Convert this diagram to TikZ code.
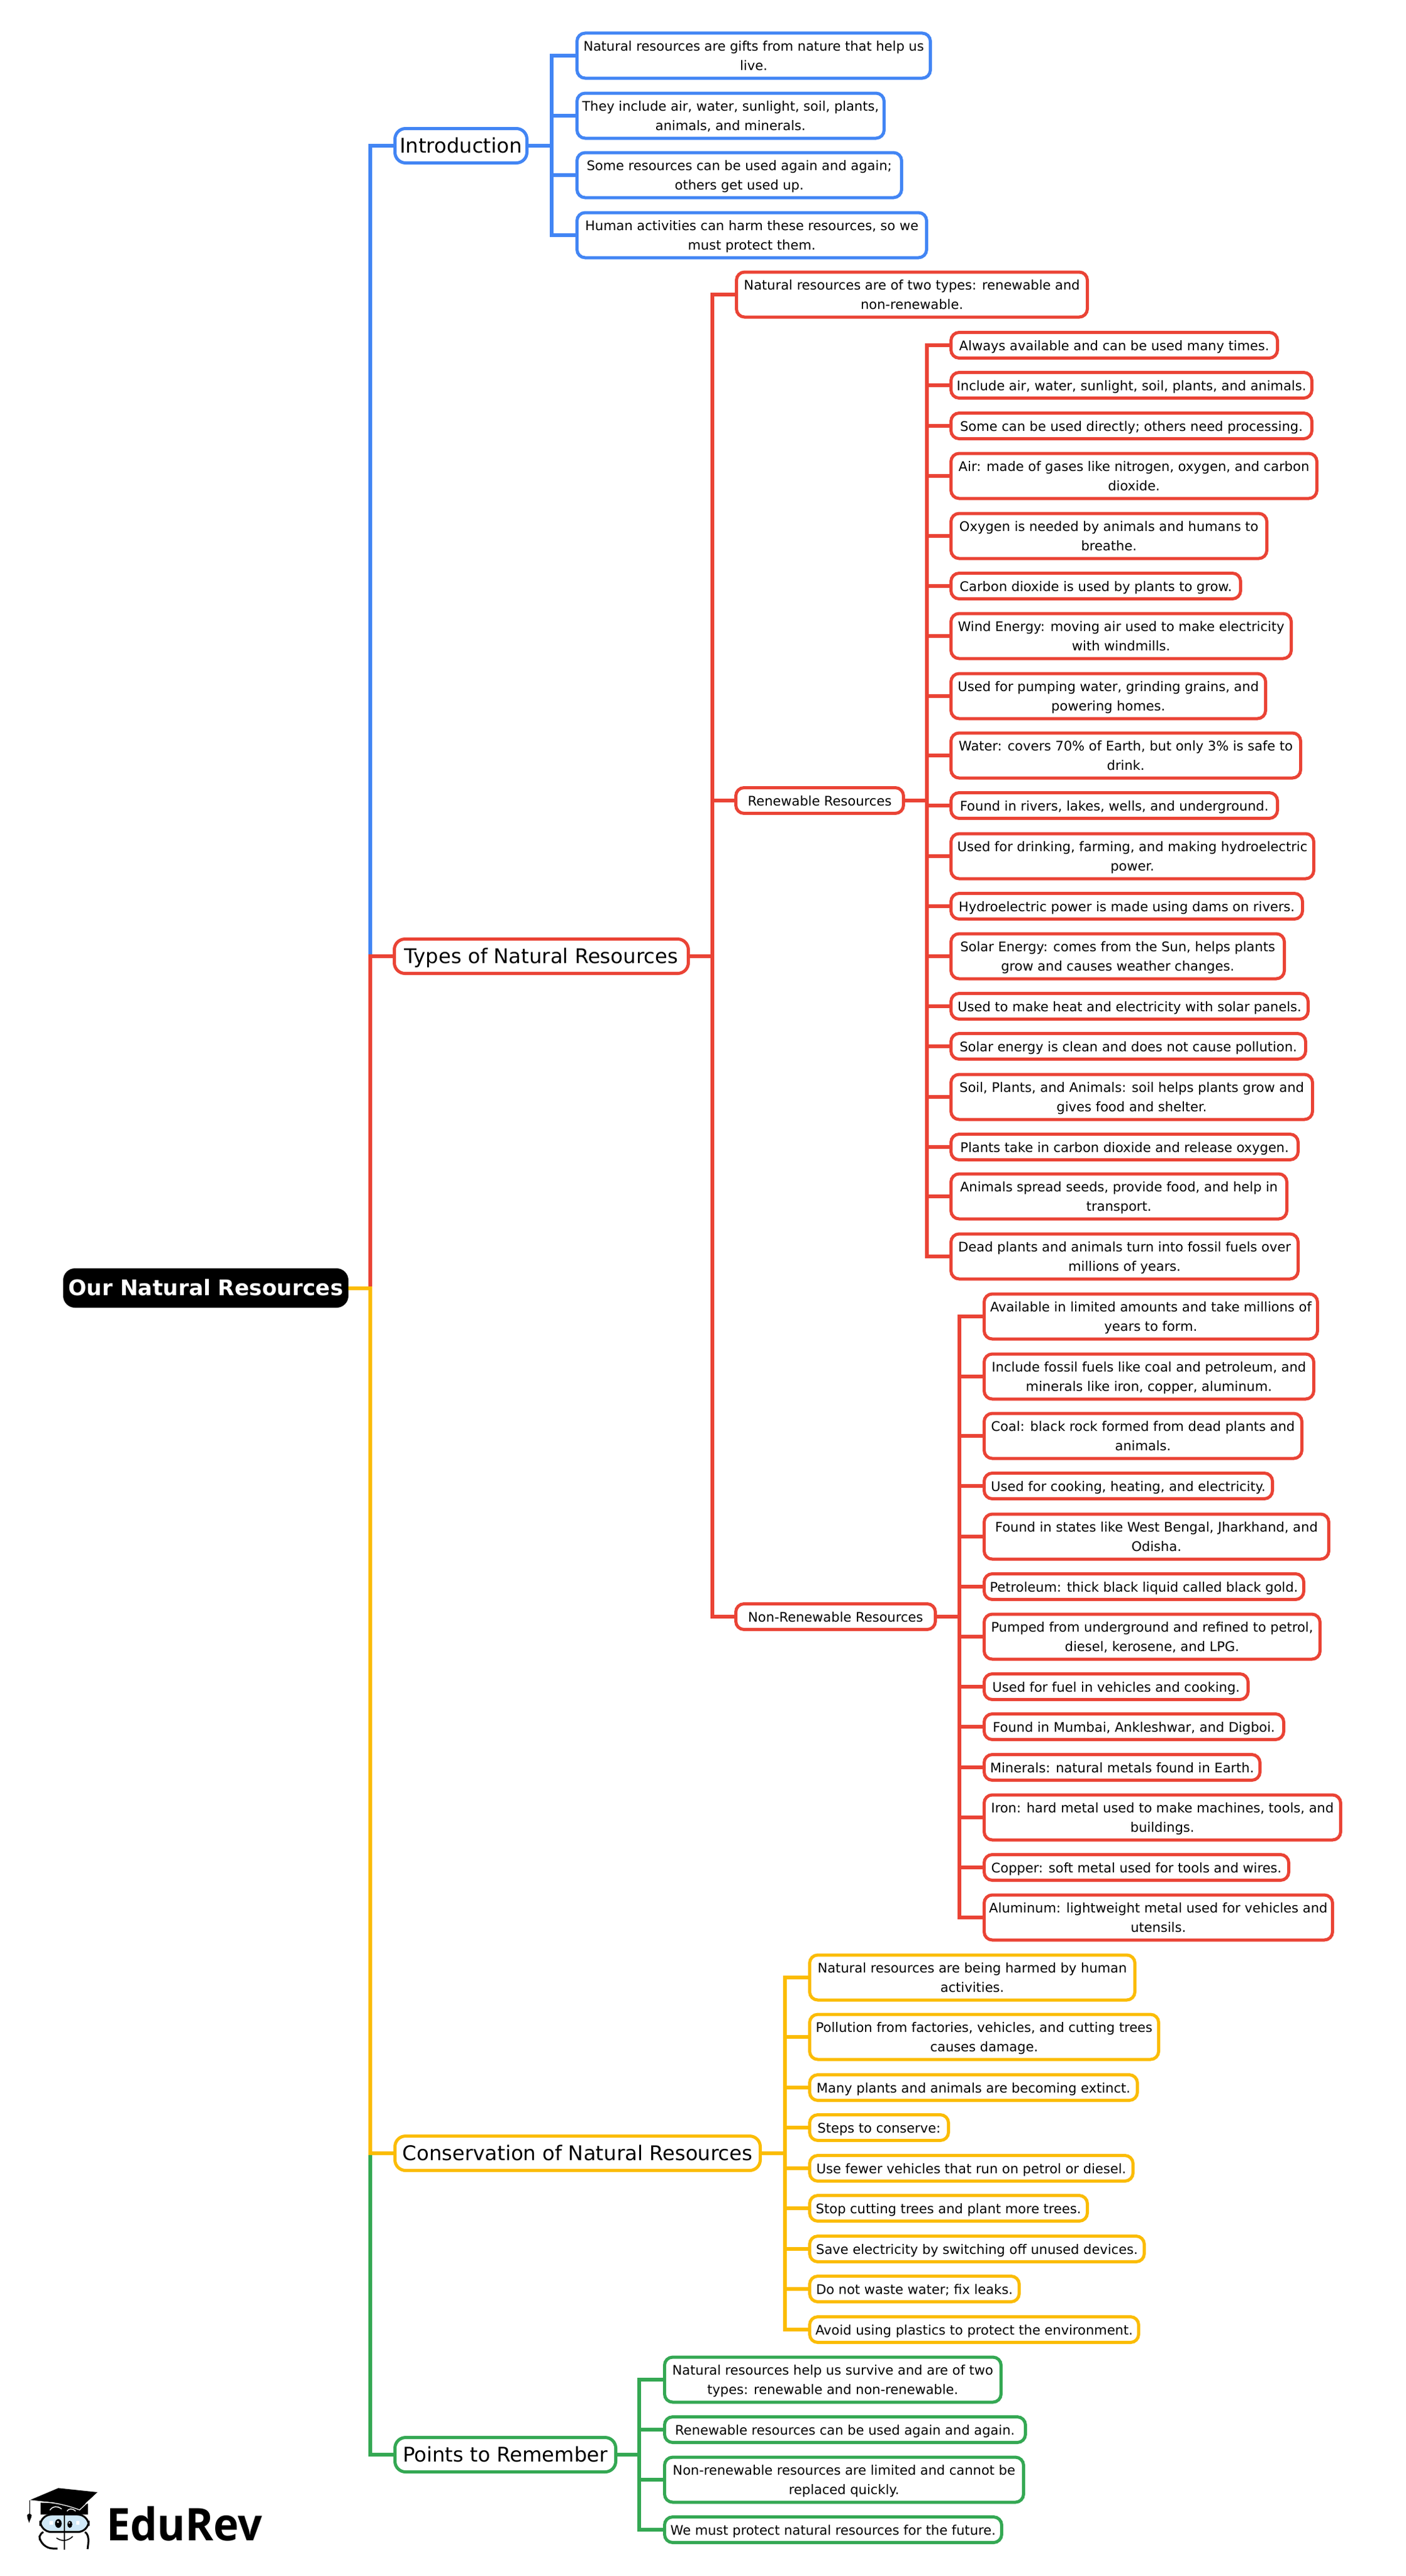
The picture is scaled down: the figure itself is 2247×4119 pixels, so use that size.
\documentclass[tikz,border=0pt]{standalone}
\usepackage{fontspec}
\setmainfont{DejaVu Sans}
\newfontfamily\logofont{Open Sans}[FakeStretch=0.95]
\definecolor{cblue}{HTML}{4285F4}
\definecolor{cred}{HTML}{EA4335}
\definecolor{cyel}{HTML}{FBBC04}
\definecolor{cgrn}{HTML}{34A853}
\definecolor{lens}{HTML}{CFE8F7}
\tikzset{
  box/.style={draw,line width=5pt,fill=white,text=black,rounded corners=13pt,inner sep=0pt,outer sep=0pt,align=center},
  leafone/.style={box,minimum height=41pt,text height=16pt,text depth=0pt,font=\fontsize{21.1}{31}\selectfont},
  leaftwo/.style={box,minimum height=72pt,text height=47pt,text depth=0pt,font=\fontsize{21.1}{31}\selectfont},
  topic/.style={box,rounded corners=17pt,minimum height=55pt,text height=23.4pt,text depth=0pt,font=\fontsize{32.3}{38}\selectfont},
  rootbox/.style={fill=black,text=white,rounded corners=19pt,inner sep=0pt,outer sep=0pt,minimum height=63pt,text height=24.4pt,text depth=0pt,font=\fontsize{34.4}{40}\selectfont\bfseries},
  conn/.style={line width=6pt,line join=miter},
}
% name, style, colour, x left, x right, y centre, text
\newcommand{\nd}[7]{%
  \pgfmathsetmacro{\ndcx}{(#4+#5)/2}\pgfmathsetmacro{\ndw}{#5-#4-5}%
  \node[#2,draw=#3,minimum width=\ndw pt] (#1) at (\ndcx,#6) {#7};}
\begin{document}
\begin{tikzpicture}[x=1pt,y=-1pt]
\useasboundingbox (0,0) rectangle (2247,4119);
% root and topics
\node[rootbox,minimum width=456pt] (root) at (329,2059.5) {Our Natural Resources};
\nd{intro}{topic}{cblue}{629}{845}{233}{Introduction}
\nd{types}{topic}{cred}{628}{1103}{1529}{Types of Natural Resources}
\nd{cons}{topic}{cyel}{629}{1218}{3443}{Conservation of Natural Resources}
\nd{pts}{topic}{cgrn}{629}{987}{3925}{Points to Remember}
% introduction
\nd{a1}{leaftwo}{cblue}{920}{1490}{89}{Natural resources are gifts from nature that help us\\live.}
\nd{a2}{leaftwo}{cblue}{920}{1416}{185}{They include air, water, sunlight, soil, plants,\\animals, and minerals.}
\nd{a3}{leaftwo}{cblue}{920}{1444}{280}{Some resources can be used again and again;\\others get used up.}
\nd{a4}{leaftwo}{cblue}{920}{1484}{376}{Human activities can harm these resources, so we\\must protect them.}
% types
\nd{b0}{leaftwo}{cred}{1175}{1741}{471}{Natural resources are of two types: renewable and\\non-renewable.}
\nd{ren}{leafone}{cred}{1174}{1447}{1280}{Renewable Resources}
\nd{non}{leafone}{cred}{1174}{1498}{2585}{Non-Renewable Resources}
\nd{r1}{leafone}{cred}{1518}{2045}{552}{Always available and can be used many times.}
\nd{r2}{leafone}{cred}{1518}{2100}{616}{Include air, water, sunlight, soil, plants, and animals.}
\nd{r3}{leafone}{cred}{1518}{2100}{681}{Some can be used directly; others need processing.}
\nd{r4}{leaftwo}{cred}{1518}{2108}{761}{Air: made of gases like nitrogen, oxygen, and carbon\\dioxide.}
\nd{r5}{leaftwo}{cred}{1518}{2028}{857}{Oxygen is needed by animals and humans to\\breathe.}
\nd{r6}{leafone}{cred}{1518}{1986}{937}{Carbon dioxide is used by plants to grow.}
\nd{r7}{leaftwo}{cred}{1518}{2067}{1017}{Wind Energy: moving air used to make electricity\\with windmills.}
\nd{r8}{leaftwo}{cred}{1518}{2026}{1113}{Used for pumping water, grinding grains, and\\powering homes.}
\nd{r9}{leaftwo}{cred}{1518}{2082}{1208}{Water: covers 70\% of Earth, but only 3\% is safe to\\drink.}
\nd{r10}{leafone}{cred}{1518}{2045}{1288}{Found in rivers, lakes, wells, and underground.}
\nd{r11}{leaftwo}{cred}{1518}{2103}{1369}{Used for drinking, farming, and making hydroelectric\\power.}
\nd{r12}{leafone}{cred}{1518}{2085}{1449}{Hydroelectric power is made using dams on rivers.}
\nd{r13}{leaftwo}{cred}{1518}{2056}{1529}{Solar Energy: comes from the Sun, helps plants\\grow and causes weather changes.}
\nd{r14}{leafone}{cred}{1518}{2094}{1609}{Used to make heat and electricity with solar panels.}
\nd{r15}{leafone}{cred}{1518}{2090}{1673}{Solar energy is clean and does not cause pollution.}
\nd{r16}{leaftwo}{cred}{1518}{2101}{1754}{Soil, Plants, and Animals: soil helps plants grow and\\gives food and shelter.}
\nd{r17}{leafone}{cred}{1518}{2078}{1834}{Plants take in carbon dioxide and release oxygen.}
\nd{r18}{leaftwo}{cred}{1518}{2060}{1913}{Animals spread seeds, provide food, and help in\\transport.}
\nd{r19}{leaftwo}{cred}{1518}{2078}{2009}{Dead plants and animals turn into fossil fuels over\\millions of years.}
\nd{n1}{leaftwo}{cred}{1571}{2109}{2105}{Available in limited amounts and take millions of\\years to form.}
\nd{n2}{leaftwo}{cred}{1571}{2103}{2201}{Include fossil fuels like coal and petroleum, and\\minerals like iron, copper, aluminum.}
\nd{n3}{leaftwo}{cred}{1571}{2084}{2296}{Coal: black rock formed from dead plants and\\animals.}
\nd{n4}{leafone}{cred}{1571}{2037}{2376}{Used for cooking, heating, and electricity.}
\nd{n5}{leaftwo}{cred}{1571}{2127}{2457}{Found in states like West Bengal, Jharkhand, and\\Odisha.}
\nd{n6}{leafone}{cred}{1571}{2087}{2537}{Petroleum: thick black liquid called black gold.}
\nd{n7}{leaftwo}{cred}{1571}{2113}{2617}{Pumped from underground and refined to petrol,\\diesel, kerosene, and LPG.}
\nd{n8}{leafone}{cred}{1571}{1998}{2697}{Used for fuel in vehicles and cooking.}
\nd{n9}{leafone}{cred}{1571}{2055}{2761}{Found in Mumbai, Ankleshwar, and Digboi.}
\nd{n10}{leafone}{cred}{1571}{2017}{2826}{Minerals: natural metals found in Earth.}
\nd{n11}{leaftwo}{cred}{1571}{2146}{2906}{Iron: hard metal used to make machines, tools, and\\buildings.}
\nd{n12}{leafone}{cred}{1571}{2063}{2986}{Copper: soft metal used for tools and wires.}
\nd{n13}{leaftwo}{cred}{1571}{2133}{3066}{Aluminum: lightweight metal used for vehicles and\\utensils.}
% conservation
\nd{c1}{leaftwo}{cyel}{1292}{1817}{3162}{Natural resources are being harmed by human\\activities.}
\nd{c2}{leaftwo}{cyel}{1292}{1855}{3257}{Pollution from factories, vehicles, and cutting trees\\causes damage.}
\nd{c3}{leafone}{cyel}{1292}{1821}{3338}{Many plants and animals are becoming extinct.}
\nd{c4}{leafone}{cyel}{1292}{1519}{3402}{Steps to conserve:}
\nd{c5}{leafone}{cyel}{1292}{1814}{3467}{Use fewer vehicles that run on petrol or diesel.}
\nd{c6}{leafone}{cyel}{1292}{1741}{3531}{Stop cutting trees and plant more trees.}
\nd{c7}{leafone}{cyel}{1292}{1832}{3596}{Save electricity by switching off unused devices.}
\nd{c8}{leafone}{cyel}{1292}{1632}{3660}{Do not waste water; fix leaks.}
\nd{c9}{leafone}{cyel}{1292}{1823}{3725}{Avoid using plastics to protect the environment.}
% points
\nd{g1}{leaftwo}{cgrn}{1060}{1603}{3805}{Natural resources help us survive and are of two\\types: renewable and non-renewable.}
\nd{g2}{leafone}{cgrn}{1060}{1642}{3885}{Renewable resources can be used again and again.}
\nd{g3}{leaftwo}{cgrn}{1060}{1639}{3965}{Non-renewable resources are limited and cannot be\\replaced quickly.}
\nd{g4}{leafone}{cgrn}{1060}{1604}{4045}{We must protect natural resources for the future.}
% spine points
\coordinate (tr) at (592,2059.5);
\coordinate (sa) at (882,233);
\coordinate (sb) at (1138.5,1529);
\coordinate (sr) at (1482,1280);
\coordinate (sn) at (1534,2585);
\coordinate (sc) at (1255,3443);
\coordinate (sg) at (1022,3925);
% connectors
\foreach \c in {a1,a2,a3,a4} \draw[conn,cblue] (intro.east) -- (sa) |- (\c.west);
\foreach \c in {b0,ren,non} \draw[conn,cred] (types.east) -- (sb) |- (\c.west);
\foreach \c in {r1,r2,r3,r4,r5,r6,r7,r8,r9,r10,r11,r12,r13,r14,r15,r16,r17,r18,r19} \draw[conn,cred] (ren.east) -- (sr) |- (\c.west);
\foreach \c in {n1,n2,n3,n4,n5,n6,n7,n8,n9,n10,n11,n12,n13} \draw[conn,cred] (non.east) -- (sn) |- (\c.west);
\foreach \c in {c1,c2,c3,c4,c5,c6,c7,c8,c9} \draw[conn,cyel] (cons.east) -- (sc) |- (\c.west);
\foreach \c in {g1,g2,g3,g4} \draw[conn,cgrn] (pts.east) -- (sg) |- (\c.west);
\draw[conn,cblue] (root.east) -- (tr) |- (intro.west);
\draw[conn,cgrn] (root.east) -- (tr) |- (pts.west);
\draw[conn,cred] (root.east) -- (tr) |- (types.west);
\draw[conn,cyel] (root.east) -- (tr) |- (cons.west);
% logo
\begin{scope}[shift={(30,3960)},x=0.3333pt,y=-0.3333pt]
  \fill[black] (105,125) -- (105,182) -- (332,182) -- (332,130) -- cycle;
  \fill[black] (190,55) -- (378,75) -- (290,155) -- (200,128) -- (110,118) -- (55,112) -- cycle;
  \draw[white,line width=1.2pt] (112,122) .. controls (180,125) and (240,140) .. (292,160) -- (378,78);
  \draw[white,line width=1.4pt,line cap=round] (150,160) .. controls (165,140) and (185,140) .. (205,155);
  \draw[white,line width=1.4pt,line cap=round] (232,165) .. controls (240,152) and (260,152) .. (272,165);
  \draw[black,line width=1.2pt] (52,115) -- (52,182);
  \fill[black] (40,185) .. controls (48,175) and (56,175) .. (62,186) .. controls (60,200) and (52,210) .. (50,222) .. controls (46,210) and (40,200) .. (40,185) -- cycle;
  \draw[black,line width=3pt,fill=lens,rounded corners=18pt] (103,182) rectangle (336,266);
  \draw[black,line width=3pt,rounded corners=20pt] (118,266) .. controls (98,275) and (100,300) .. (104,345) -- (186,345);
  \draw[black,line width=3pt,rounded corners=20pt] (318,266) .. controls (338,280) and (336,310) .. (330,348);
  \draw[black,line width=2.2pt] (218,170) -- (218,350);
  \fill[black] (190,225) ellipse (16 and 21);
  \fill[black] (245,229) ellipse (12 and 17);
  \fill[white] (188,218) circle (5);
  \fill[white] (243,222) circle (4);
  \fill[white] (146,214) rectangle (164,232);
  \fill[white] (275,212) rectangle (292,232);
  \draw[black,line width=1.6pt,line cap=round] (182,295) .. controls (205,312) and (235,310) .. (258,288);
\end{scope}
\node[anchor=base west,inner sep=0pt,font=\logofont\fontsize{72}{80}\selectfont\bfseries] (logo) at (170,4062) {EduRev};
\end{tikzpicture}
\end{document}
